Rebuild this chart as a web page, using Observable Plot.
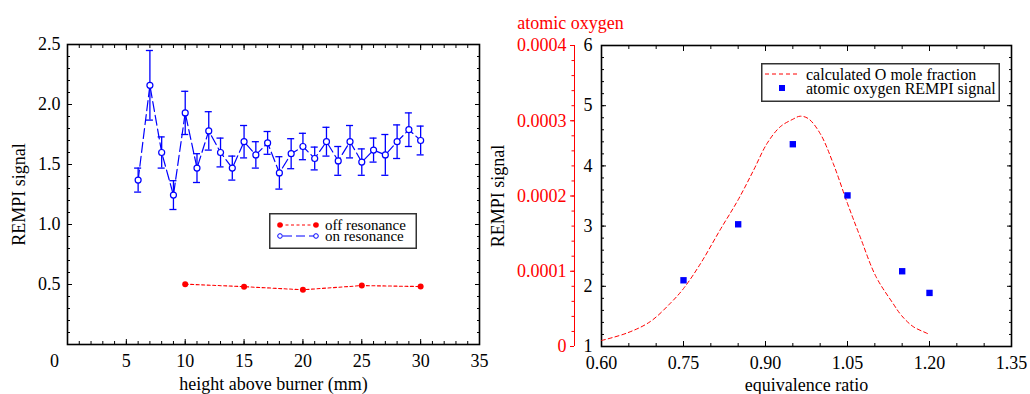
<!DOCTYPE html>
<html><head><meta charset="utf-8">
<script src="https://cdn.jsdelivr.net/npm/d3@7"></script>
<script src="https://cdn.jsdelivr.net/npm/@observablehq/plot@0.6"></script>
<style>
html,body{margin:0;padding:0;background:#fff;}
#wrap{position:relative;width:1030px;height:394px;display:flex;font-family:"Liberation Serif","Times New Roman",serif;}
.legend{position:absolute;}
</style></head><body><div id="wrap"></div>
<script>
// ---------- left panel data ----------
const onHeight = [6,7,8,9,10,11,12,13,14,15,16,17,18,19,20,21,22,23,24,25,26,27,28,29,30];
const onSignal = [1.37,2.16,1.60,1.245,1.93,1.47,1.78,1.60,1.47,1.69,1.58,1.68,1.43,1.59,1.65,1.55,1.69,1.53,1.69,1.52,1.62,1.58,1.69,1.79,1.70];
const onError  = [0.10,0.29,0.13,0.12,0.18,0.12,0.16,0.12,0.10,0.135,0.11,0.095,0.135,0.125,0.11,0.095,0.12,0.12,0.135,0.11,0.10,0.17,0.14,0.14,0.12];
const offHeight = [10,15,20,25,30];
const offSignal = [0.503,0.482,0.456,0.491,0.483];
const offError  = [0.012,0.010,0.010,0.010,0.012];
const leftSeries = ["off resonance","on resonance"];
const leftXTicks = [0,5,10,15,20,25,30,35];
const leftYTicks = [0.5,1.0,1.5,2.0,2.5];

// ---------- right panel data ----------
const phiMeasured = [0.75,0.85,0.95,1.05,1.15,1.20];
const rempiSignal = [2.10,3.03,4.36,3.51,2.25,1.89];
const phiCalc   = [0.600,0.647,0.689,0.726,0.750,0.781,0.817,0.850,0.878,0.903,0.927,0.950,0.963,0.978,1.000,1.024,1.050,1.073,1.102,1.133,1.149,1.170,1.194,1.200];
const oFraction = [8.0e-6,1.8e-5,3.3e-5,5.75e-5,7.7e-5,1.10e-4,1.55e-4,1.95e-4,2.34e-4,2.70e-4,2.92e-4,3.02e-4,3.06e-4,3.03e-4,2.83e-4,2.43e-4,1.90e-4,1.46e-4,9.3e-5,5.75e-5,4.1e-5,2.65e-5,1.8e-5,1.6e-5];
const rightSeries = ["calculated O mole fraction","atomic oxygen REMPI signal"];
const rightXTicks = [0.60,0.75,0.90,1.05,1.20,1.35];
const rightYTicks = [1,2,3,4,5,6];
const fracTicks = [0,0.0001,0.0002,0.0003,0.0004];
const fracLabels = ["0","0.0001","0.0002","0.0003","0.0004"];

const BLUE = "#0000ff", RED = "#ff0000";
const FONT = '"Liberation Serif","Times New Roman",serif';

const onData = onHeight.map((h,i)=>({h, v:onSignal[i], e:onError[i]}));
const offData = offHeight.map((h,i)=>({h, v:offSignal[i], e:offError[i]}));

// secondary axis: mole fraction mapped onto the REMPI scale [1,6]
const fracMax = 0.0004, yMin = 1, yMax = 6;
const fracToY = f => yMin + f / fracMax * (yMax - yMin);
const calcData = phiCalc.map((p,i)=>({p, y: fracToY(oFraction[i])}));
const measData = phiMeasured.map((p,i)=>({p, v: rempiSignal[i]}));

const wrap = document.getElementById("wrap");

const left = Plot.plot({
  width: 510, height: 394,
  marginLeft: 67, marginRight: 31, marginTop: 44, marginBottom: 50,
  style: {fontFamily: FONT, fontSize: "18px", background: "white", color: "black", overflow: "visible"},
  x: {domain: [0,35]},
  y: {domain: [0,2.5]},
  marks: [
    Plot.axisX({anchor:"bottom", ticks: d3.range(0,35.01,1), tickSize:-3, text:null, label:null}),
    Plot.axisX({anchor:"top", ticks: d3.range(0,35.01,1), tickSize:-3, text:null, label:null}),
    Plot.axisX({anchor:"bottom", ticks: leftXTicks, tickSize:-5, text:null, label:null}),
    Plot.axisX({anchor:"top", ticks: leftXTicks, tickSize:-5, text:null, label:null}),
    Plot.axisY({anchor:"left", ticks: d3.range(0,2.501,0.1), tickSize:-3, text:null, label:null}),
    Plot.axisY({anchor:"right", ticks: d3.range(0,2.501,0.1), tickSize:-3, text:null, label:null}),
    Plot.axisY({anchor:"left", ticks: leftYTicks, tickSize:-5, text:null, label:null}),
    Plot.axisY({anchor:"right", ticks: leftYTicks, tickSize:-5, text:null, label:null}),
    Plot.axisX({anchor:"bottom", ticks: leftXTicks.slice(1), tickSize:0, tickPadding:10, tickFormat: d3.format("d"),
      label:"height above burner (mm)", labelAnchor:"center", labelArrow:"none", labelOffset:45}),
    Plot.axisX({anchor:"bottom", ticks: leftXTicks.slice(0,1), tickSize:0, tickPadding:10, tickFormat: d3.format("d"), dx:-13, label:null}),
    Plot.axisY({anchor:"left", ticks: leftYTicks, tickSize:0, tickPadding:7, tickFormat: d3.format(".1f"),
      label:"REMPI signal", labelAnchor:"center", labelArrow:"none", labelOffset:55}),
    Plot.frame({stroke:"black", strokeWidth:1.6}),
    // on resonance
    Plot.ruleX(onData, {x:"h", y1:d=>d.v-d.e, y2:d=>d.v+d.e, stroke:BLUE, strokeWidth:1.3}),
    Plot.ruleY(onData, {y:d=>d.v+d.e, x1:d=>d.h-0.3, x2:d=>d.h+0.3, stroke:BLUE, strokeWidth:1.3}),
    Plot.ruleY(onData, {y:d=>d.v-d.e, x1:d=>d.h-0.3, x2:d=>d.h+0.3, stroke:BLUE, strokeWidth:1.3}),
    Plot.line(onData, {x:"h", y:"v", stroke:BLUE, strokeWidth:1.2, strokeDasharray:"10,4"}),
    Plot.dot(onData, {x:"h", y:"v", r:3, stroke:BLUE, fill:"white", strokeWidth:1.2}),
    // off resonance
    Plot.ruleX(offData, {x:"h", y1:d=>d.v-d.e, y2:d=>d.v+d.e, stroke:RED, strokeWidth:1.2}),
    Plot.line(offData, {x:"h", y:"v", stroke:RED, strokeWidth:1.1, strokeDasharray:"3,2.5"}),
    Plot.dot(offData, {x:"h", y:"v", r:3, fill:RED})
  ]
});

const right = Plot.plot({
  width: 520, height: 394,
  marginLeft: 91, marginRight: 19, marginTop: 45, marginBottom: 48,
  style: {fontFamily: FONT, fontSize: "18px", background: "white", color: "black", overflow: "visible"},
  x: {domain: [0.60,1.35]},
  y: {domain: [yMin,yMax]},
  marks: [
    Plot.axisX({anchor:"bottom", ticks: d3.range(0.60,1.3501,0.05), tickSize:-3, text:null, label:null}),
    Plot.axisX({anchor:"top", ticks: d3.range(0.60,1.3501,0.05), tickSize:-3, text:null, label:null}),
    Plot.axisX({anchor:"bottom", ticks: rightXTicks, tickSize:-5, text:null, label:null}),
    Plot.axisX({anchor:"top", ticks: rightXTicks, tickSize:-5, text:null, label:null}),
    Plot.axisY({anchor:"left", ticks: d3.range(1,6.001,0.2), tickSize:-3, text:null, label:null}),
    Plot.axisY({anchor:"right", ticks: d3.range(1,6.001,0.2), tickSize:-3, text:null, label:null}),
    Plot.axisY({anchor:"left", ticks: rightYTicks, tickSize:-5, text:null, label:null}),
    Plot.axisY({anchor:"right", ticks: rightYTicks, tickSize:-5, text:null, label:null}),
    Plot.axisX({anchor:"bottom", ticks: rightXTicks, tickSize:0, tickPadding:10, tickFormat: d3.format(".2f"),
      label:"equivalence ratio", labelAnchor:"center", labelArrow:"none", labelOffset:44}),
    Plot.axisY({anchor:"left", ticks: rightYTicks, tickSize:0, tickPadding:9, tickFormat: d3.format("d"),
      label:"REMPI signal", labelAnchor:"center", labelArrow:"none", labelOffset:110}),
    // secondary red axis (mole fraction)
    Plot.ruleX([0.60], {y1:yMin, y2:yMax, dx:-27, stroke:RED, strokeWidth:1}),
    Plot.axisY({anchor:"left", ticks: d3.range(0,0.0004001,0.00002).map(fracToY), tickSize:2.5, text:null, label:null, dx:-27, color:RED}),
    Plot.axisY({anchor:"left", ticks: fracTicks.map(fracToY), tickSize:4, tickPadding:4, dx:-27, color:RED,
      tickFormat: v => fracLabels[fracTicks.map(fracToY).findIndex(t=>Math.abs(t-v)<1e-9)], label:null}),
    Plot.text(["atomic oxygen"], {frameAnchor:"top-left", dx:-31, dy:-29, fill:RED, textAnchor:"middle", fontSize:18}),
    Plot.frame({stroke:"black", strokeWidth:1.6}),
    Plot.line(calcData, {x:"p", y:"y", stroke:RED, strokeWidth:1, strokeDasharray:"4,3", curve:"catmull-rom"}),
    Plot.dot(measData, {x:"p", y:"v", symbol:"square", r:3.6, fill:BLUE})
  ]
});

wrap.appendChild(left);
wrap.appendChild(right);

// ---------- legends (HTML overlays) ----------
function svgEl(tag, attrs){const e=document.createElementNS("http://www.w3.org/2000/svg",tag);for(const k in attrs)e.setAttribute(k,attrs[k]);return e;}

(function(){
  const s = svgEl("svg",{width:148,height:36,class:"legend"});
  s.style.left="269px"; s.style.top="213px";
  s.appendChild(svgEl("rect",{x:0.75,y:0.75,width:146.5,height:34.5,fill:"white",stroke:"#333","stroke-width":1.5}));
  s.appendChild(svgEl("line",{x1:11,x2:47,y1:12,y2:12,stroke:RED,"stroke-dasharray":"3,2.5"}));
  s.appendChild(svgEl("circle",{cx:11,cy:12,r:2.8,fill:RED}));
  s.appendChild(svgEl("circle",{cx:47,cy:12,r:2.8,fill:RED}));
  s.appendChild(svgEl("line",{x1:11,x2:47,y1:23,y2:23,stroke:BLUE,"stroke-dasharray":"9,4","stroke-dashoffset":-3}));
  s.appendChild(svgEl("circle",{cx:11,cy:23,r:2.3,fill:"white",stroke:BLUE}));
  s.appendChild(svgEl("circle",{cx:47,cy:23,r:2.3,fill:"white",stroke:BLUE}));
  [12,23].forEach((y,i)=>{const t=svgEl("text",{x:56,y:y,"dominant-baseline":"central","font-size":15,"font-family":FONT});t.textContent=leftSeries[i];s.appendChild(t);});
  wrap.appendChild(s);
})();

(function(){
  const s = svgEl("svg",{width:239,height:39,class:"legend"});
  s.style.left="761px"; s.style.top="63px";
  s.appendChild(svgEl("rect",{x:0.75,y:0.75,width:237.5,height:37.5,fill:"white",stroke:"#333","stroke-width":1.5}));
  s.appendChild(svgEl("line",{x1:4,x2:38,y1:11,y2:11,stroke:RED,"stroke-dasharray":"4,3"}));
  s.appendChild(svgEl("rect",{x:18,y:22,width:6,height:6,fill:BLUE}));
  [11,25].forEach((y,i)=>{const t=svgEl("text",{x:45,y:y,"dominant-baseline":"central","font-size":16,"font-family":FONT});t.textContent=rightSeries[i];s.appendChild(t);});
  wrap.appendChild(s);
})();
</script></body></html>
